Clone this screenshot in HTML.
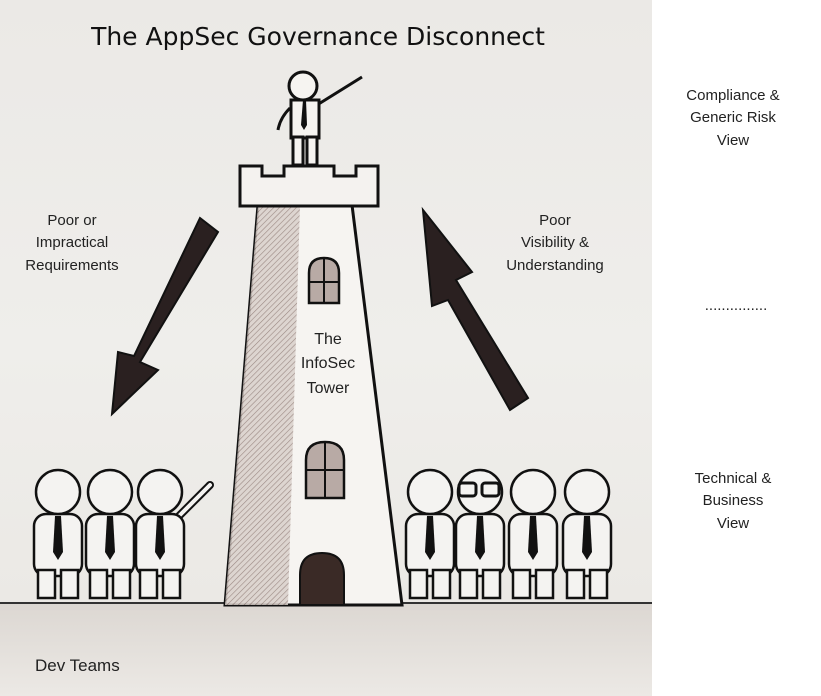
<!DOCTYPE html>
<html><head><style>
html,body{margin:0;padding:0;background:#fff;width:821px;height:696px;overflow:hidden}
svg{display:block}
.t{font-family:"Liberation Sans",sans-serif;fill:#222;font-size:15px;text-anchor:middle}
</style></head><body>
<svg width="821" height="696" viewBox="0 0 821 696" xmlns="http://www.w3.org/2000/svg">
<defs>
<linearGradient id="bg" x1="0" y1="0" x2="0" y2="1">
<stop offset="0" stop-color="#ebe9e6"/><stop offset="0.5" stop-color="#efeeeb"/><stop offset="0.86" stop-color="#ebe9e5"/><stop offset="1" stop-color="#e2dfda"/>
</linearGradient>
<linearGradient id="gr" x1="0" y1="0" x2="0" y2="1">
<stop offset="0" stop-color="#dcd7d2"/><stop offset="1" stop-color="#ece9e5"/>
</linearGradient>
<pattern id="hatch" width="4" height="4" patternUnits="userSpaceOnUse" patternTransform="rotate(45)">
<rect width="4" height="4" fill="#d9cfca"/><line x1="0" y1="0" x2="0" y2="4" stroke="#8a7670" stroke-width="1.2"/>
</pattern>
<g id="p">
<rect x="-24" y="22" width="48" height="62" rx="12" fill="#f4f3f1" stroke="#111" stroke-width="2.5"/>
<rect x="-20" y="78" width="17" height="28" fill="#f4f3f1" stroke="#111" stroke-width="2.5"/>
<rect x="3" y="78" width="17" height="28" fill="#f4f3f1" stroke="#111" stroke-width="2.5"/>
<polygon points="-3,24 3,24 5,60 0,68 -5,60" fill="#111"/>
<circle cx="0" cy="0" r="22" fill="#f4f3f1" stroke="#111" stroke-width="2.5"/>
</g>
</defs>
<rect x="0" y="0" width="652" height="696" fill="url(#bg)"/>
<rect x="0" y="603" width="652" height="93" fill="url(#gr)"/>
<line x1="0" y1="603" x2="652" y2="603" stroke="#333" stroke-width="2"/>
<text x="318" y="45" style="font-family:'DejaVu Sans',sans-serif;font-size:25px;fill:#111;text-anchor:middle">The AppSec Governance Disconnect</text>

<!-- arrows -->
<polygon points="200,218 218,232 140,362 158,370 112,414 118,352 134,356" fill="#2a2020" stroke="#111" stroke-width="2"/>
<polygon points="528,398 510,410 448,300 432,306 423,210 472,272 456,280" fill="#2a2020" stroke="#111" stroke-width="2"/>

<!-- tower -->
<polygon points="258,205 352,205 402,605 225,605" fill="#f6f4f1" stroke="#111" stroke-width="3"/>
<polygon points="258,205 300,205 288,605 225,605" fill="url(#hatch)" opacity="0.85"/>
<path d="M240,166 h22 v10 h22 v-10 h50 v10 h22 v-10 h22 v40 h-138 z" fill="#f4f2ef" stroke="#111" stroke-width="3"/>
<path d="M300,605 v-30 q0,-22 22,-22 q22,0 22,22 v30 z" fill="#3a2a26" stroke="#111" stroke-width="2"/>
<path d="M309,303 v-30 q0,-15 15,-15 q15,0 15,15 v30 z" fill="#b8aaa5" stroke="#111" stroke-width="2.5"/>
<line x1="324" y1="258" x2="324" y2="303" stroke="#111" stroke-width="2"/><line x1="309" y1="282" x2="339" y2="282" stroke="#111" stroke-width="2"/>
<path d="M306,498 v-38 q0,-18 19,-18 q19,0 19,18 v38 z" fill="#b8aaa5" stroke="#111" stroke-width="2.5"/>
<line x1="325" y1="442" x2="325" y2="498" stroke="#111" stroke-width="2"/><line x1="306" y1="470" x2="344" y2="470" stroke="#111" stroke-width="2"/>

<!-- figure on top -->
<line x1="317" y1="105" x2="362" y2="77" stroke="#111" stroke-width="3"/>
<path d="M290,108 q-10,10 -12,22" stroke="#111" stroke-width="3" fill="none"/>
<rect x="291" y="100" width="28" height="38" fill="#f6f4f1" stroke="#111" stroke-width="3"/>
<rect x="293" y="137" width="10" height="28" fill="#f6f4f1" stroke="#111" stroke-width="3"/>
<rect x="307" y="137" width="10" height="28" fill="#f6f4f1" stroke="#111" stroke-width="3"/>
<polygon points="303,100 306,100 307,125 304,130 301,125" fill="#111"/>
<circle cx="303" cy="86" r="14" fill="#f6f4f1" stroke="#111" stroke-width="3"/>

<!-- people -->
<use href="#p" x="58" y="492"/><use href="#p" x="110" y="492"/>
<line x1="175" y1="520" x2="210" y2="485" stroke="#111" stroke-width="8" stroke-linecap="round"/>
<line x1="175" y1="520" x2="210" y2="485" stroke="#f4f3f1" stroke-width="4" stroke-linecap="round"/>
<use href="#p" x="160" y="492"/>
<use href="#p" x="430" y="492"/><use href="#p" x="480" y="492"/>
<g fill="none" stroke="#111" stroke-width="3"><rect x="459" y="483" width="17" height="13" rx="3"/><rect x="482" y="483" width="17" height="13" rx="3"/></g>
<use href="#p" x="533" y="492"/><use href="#p" x="587" y="492"/>

<!-- labels -->
<text class="t" x="72" y="225">Poor or</text>
<text class="t" x="72" y="247">Impractical</text>
<text class="t" x="72" y="270">Requirements</text>
<text class="t" x="555" y="225">Poor</text>
<text class="t" x="555" y="247">Visibility &amp;</text>
<text class="t" x="555" y="270">Understanding</text>
<text class="t" x="328" y="344" style="font-size:16px">The</text>
<text class="t" x="328" y="368" style="font-size:16px">InfoSec</text>
<text class="t" x="328" y="393" style="font-size:16px">Tower</text>
<text class="t" x="35" y="671" style="text-anchor:start;font-size:17px">Dev Teams</text>

<text class="t" x="733" y="100">Compliance &amp;</text>
<text class="t" x="733" y="122">Generic Risk</text>
<text class="t" x="733" y="145">View</text>
<text class="t" x="736" y="310">...............</text>
<text class="t" x="733" y="483">Technical &amp;</text>
<text class="t" x="733" y="505">Business</text>
<text class="t" x="733" y="528">View</text>
</svg>
</body></html>
